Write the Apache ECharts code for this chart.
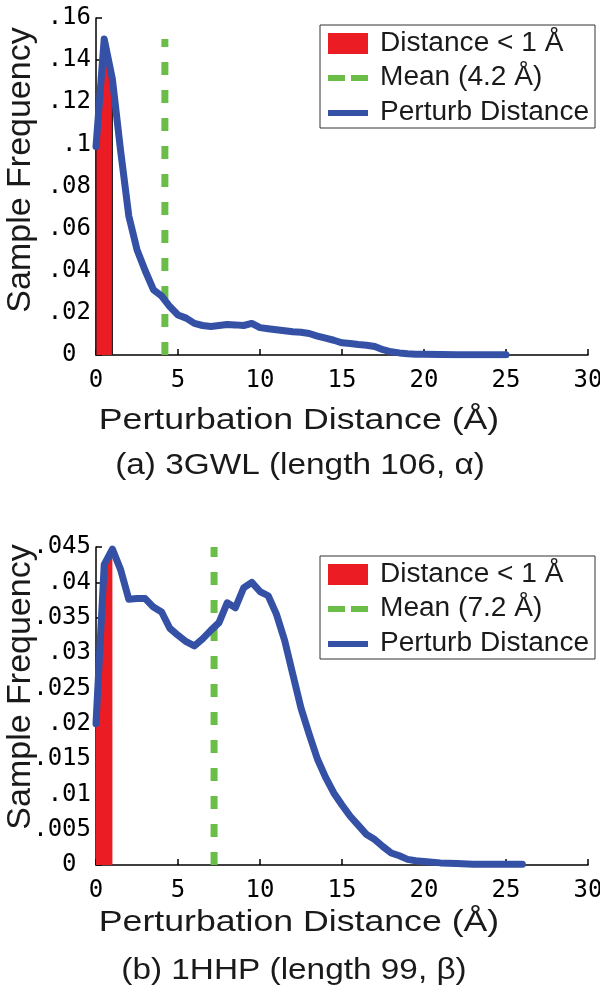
<!DOCTYPE html>
<html>
<head>
<meta charset="utf-8">
<script src="https://cdn.jsdelivr.net/npm/echarts@6/dist/echarts.min.js"></script>
<style>html,body{margin:0;padding:0;background:#fff}#c{width:600px;height:993px}</style>
</head>
<body>
<div id="c"></div>
<script>
// ---- data ----
const xTop = [0,0.5,1,1.5,2,2.5,3,3.5,4,4.5,5,5.5,6,6.5,7,7.5,8,8.5,9,9.5,10,10.5,11,11.5,12,12.5,13,13.5,14,14.5,15,15.5,16,16.5,17,17.5,18,18.5,19,19.5,20,21,22,23,24,25];
const yTop = [0.099,0.150,0.131,0.097,0.066,0.050,0.040,0.031,0.028,0.023,0.019,0.0175,0.015,0.014,0.0135,0.014,0.0145,0.0143,0.014,0.015,0.013,0.0125,0.012,0.0115,0.011,0.0108,0.0102,0.009,0.008,0.007,0.0058,0.0055,0.005,0.0046,0.004,0.0025,0.0015,0.001,0.0006,0.0004,0.0003,0.0002,0.0001,0.0001,0.0001,0.0001];
const meanTop = 4.2, meanTopHeight = 0.15;

const xBot = [0,0.5,1,1.5,2,2.5,3,3.5,4,4.5,5,5.5,6,6.5,7,7.5,8,8.5,9,9.5,10,10.5,11,11.5,12,12.5,13,13.5,14,14.5,15,15.5,16,16.5,17,17.5,18,18.5,19,19.5,20,21,22,23,24,25,26];
const yBot = [0.020,0.0425,0.0447,0.0418,0.0376,0.0377,0.0377,0.0365,0.0358,0.0335,0.0325,0.0316,0.0310,0.0320,0.0332,0.0343,0.0371,0.0364,0.0392,0.0400,0.0387,0.0381,0.0355,0.0318,0.0270,0.0222,0.0185,0.0150,0.0124,0.0102,0.0085,0.0069,0.0056,0.0043,0.0036,0.0026,0.0017,0.0013,0.0008,0.0006,0.0005,0.0003,0.0002,0.0001,0.0001,0.0001,0.0001];
const meanBot = 7.2, meanBotHeight = 0.045;

const closeCut = 1; // Distance < 1 Å
const legendNames = ['Distance < 1 Å', 'Perturb Distance'];
const meanLabelTop = 'Mean (4.2 Å)', meanLabelBot = 'Mean (7.2 Å)';
const subTop = '(a) 3GWL (length 106, α)', subBot = '(b) 1HHP (length 99, β)';
const xName = 'Perturbation Distance (Å)', yName = 'Sample Frequency';
const xTicks = {min:0, max:30, interval:5};
const yTopTicks = {min:0, max:0.16, interval:0.02};
const yBotTicks = {min:0, max:0.045, interval:0.005};

// ---- styles ----
const RED = '#ec1c24', GREEN = '#6abd46', BLUE = '#3451a6';
const SANS = '"Liberation Sans", Arial, Helvetica, sans-serif';
const MONO = '"DejaVu Sans Mono", monospace';

function pairs(xs, ys){ return xs.map((x,i)=>[x, ys[i]]); }
function redArea(xs, ys){
  const d = [[0,0]];
  xs.forEach((x,i)=>{ if (x <= closeCut) d.push([x, ys[i]]); });
  d.push([closeCut, 0]);
  return d;
}
function yFmt(v){
  if (Math.abs(v) < 1e-12) return '0\u00a0';
  const r = Math.round(v*10000)/10000;
  return String(r).replace(/^0/, '');
}
function xAxis(gi){
  return {
    type:'value', gridIndex:gi, min:xTicks.min, max:xTicks.max, interval:xTicks.interval,
    axisLine:{lineStyle:{color:'#000', width:1.5}},
    axisTick:{inside:true, length:6, lineStyle:{color:'#000', width:1.5}},
    axisLabel:{fontFamily:MONO, fontSize:24, color:'#000', margin:14},
    splitLine:{show:false}
  };
}
function yAxis(gi, t, shift){
  return {
    type:'value', gridIndex:gi, min:t.min, max:t.max, interval:t.interval,
    name:yName, nameLocation:'middle', nameGap:58, nameMoveOverlap:false,
    nameTextStyle:{fontFamily:SANS, fontSize:34, color:'#1a1a1a', padding:[0,0,0,shift]},
    axisLine:{lineStyle:{color:'#000', width:1.5}},
    axisTick:{inside:true, length:6, lineStyle:{color:'#000', width:1.5}},
    axisLabel:{fontFamily:MONO, fontSize:24, color:'#000', margin:5, formatter:yFmt},
    splitLine:{show:false}
  };
}
function stretchedText(t, x, y, size, sx, align){
  return {type:'text', x:x, y:y, scaleX:sx, z:101,
    style:{text:t, x:0, y:0, font:size + 'px ' + SANS, fill:'#1a1a1a', align:align, verticalAlign:'middle',
           textAlign:align, textVerticalAlign:'middle'}};
}
function legendBox(top, meanLabel){
  const g = [];
  g.push({type:'rect', shape:{x:320, y:top, width:275, height:103}, style:{fill:'#fff', stroke:'#333', lineWidth:1}, z:100});
  g.push({type:'rect', shape:{x:328, y:top+8, width:40, height:21}, style:{fill:RED}, z:101});
  g.push({type:'rect', shape:{x:328, y:top+50, width:17, height:6}, style:{fill:GREEN}, z:101});
  g.push({type:'rect', shape:{x:351, y:top+50, width:17, height:6}, style:{fill:GREEN}, z:101});
  g.push({type:'rect', shape:{x:328, y:top+85, width:40, height:6}, style:{fill:BLUE}, z:101});
  const texts = [legendNames[0], meanLabel, legendNames[1]];
  const ys = [top+19, top+53, top+88];
  texts.forEach((t,i)=>g.push(stretchedText(t, 380, ys[i], 27, 1.04, 'left')));
  return g;
}

const chart = echarts.init(document.getElementById('c'), null, {renderer:'canvas'});
chart.setOption({
  animation:false,
  backgroundColor:'#fff',
  grid:[
    {left:96, top:18, width:492, height:337, containLabel:false, outerBoundsMode:'none'},
    {left:96, top:547, width:492, height:318, containLabel:false, outerBoundsMode:'none'}
  ],
  xAxis:[xAxis(0), xAxis(1)],
  yAxis:[yAxis(0, yTopTicks, 33), yAxis(1, yBotTicks, 38)],
  series:[
    {name:legendNames[0], type:'line', xAxisIndex:0, yAxisIndex:0, data:redArea(xTop,yTop), symbol:'none',
     lineStyle:{color:'#111', width:1}, areaStyle:{color:RED, opacity:1}, z:2},
    {name:meanLabelTop, type:'line', xAxisIndex:0, yAxisIndex:0, data:[[meanTop,0],[meanTop,meanTopHeight]], symbol:'none',
     lineStyle:{color:GREEN, width:7, type:[13,15], cap:'butt'}, z:3},
    {name:legendNames[1], type:'line', xAxisIndex:0, yAxisIndex:0, data:pairs(xTop,yTop), symbol:'none',
     lineStyle:{color:BLUE, width:7, join:'round', cap:'round'}, z:4},

    {name:legendNames[0], type:'line', xAxisIndex:1, yAxisIndex:1, data:redArea(xBot,yBot), symbol:'none',
     lineStyle:{color:RED, width:0}, areaStyle:{color:RED, opacity:1}, z:2},
    {name:meanLabelBot, type:'line', xAxisIndex:1, yAxisIndex:1, data:[[meanBot,0],[meanBot,meanBotHeight]], symbol:'none',
     lineStyle:{color:GREEN, width:7, type:[13,15], cap:'butt'}, z:3},
    {name:legendNames[1], type:'line', xAxisIndex:1, yAxisIndex:1, data:pairs(xBot,yBot), symbol:'none',
     lineStyle:{color:BLUE, width:7, join:'round', cap:'round'}, z:4}
  ],
  graphic: legendBox(25, meanLabelTop).concat(legendBox(556, meanLabelBot)).concat([
    stretchedText(xName, 299, 421, 29, 1.23, 'center'),
    stretchedText(subTop, 300, 466, 29, 1.15, 'center'),
    stretchedText(xName, 299, 923, 29, 1.23, 'center'),
    stretchedText(subBot, 294, 971, 29, 1.15, 'center')
  ])
});
</script>
</body>
</html>
